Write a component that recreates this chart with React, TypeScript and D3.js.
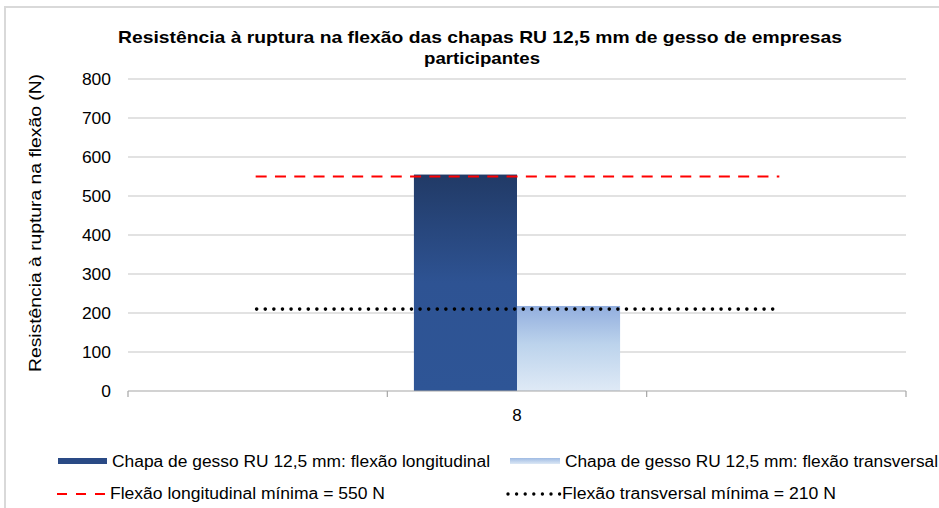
import React from "react";
import * as d3 from "d3";

const categories = ["", "8", ""];
const longitudinal: (number | null)[] = [null, 555, null];
const transversal: (number | null)[] = [null, 218, null];
const yTicks = [0, 100, 200, 300, 400, 500, 600, 700, 800];
const minLongitudinal = 550;
const minTransversal = 210;
const title1 = "Resistência à ruptura na flexão das chapas RU 12,5 mm de gesso de empresas";
const title2 = "participantes";
const yTitle = "Resistência à ruptura na flexão (N)";
const legendLabels = [
  "Chapa de gesso RU 12,5 mm: flexão longitudinal",
  "Chapa de gesso RU 12,5 mm: flexão transversal",
  "Flexão longitudinal mínima = 550 N",
  "Flexão transversal mínima = 210 N",
];

export default function App() {
  const W = 939, H = 508;
  const x = d3.scaleBand<string>().domain(categories.map((c, i) => String(i))).range([128, 906]).padding(0);
  const y = d3.scaleLinear().domain([0, 800]).range([391, 79]);
  const bw = x.bandwidth();
  const groupW = bw * 0.795;
  const barW = groupW / 2;
  const font = "Liberation Sans, Arial, sans-serif";
  const lineX1 = (x("0") as number) + bw / 2 - 2;
  const lineX2 = (x("2") as number) + bw / 2;
  const adj = "spacingAndGlyphs";

  return (
    <div style={{ position: "absolute", left: 0, top: 0 }}>
      <svg width={W} height={H} style={{ display: "block", background: "#fff" }}>
        <defs>
          <linearGradient id="gDark" x1="0" y1="0" x2="0" y2="1">
            <stop offset="0" stopColor="#213a66" />
            <stop offset="0.5" stopColor="#2e5393" />
            <stop offset="1" stopColor="#2e5596" />
          </linearGradient>
          <linearGradient id="gLight" x1="0" y1="0" x2="0" y2="1">
            <stop offset="0" stopColor="#92aede" />
            <stop offset="0.45" stopColor="#bcd3ec" />
            <stop offset="1" stopColor="#dfeaf6" />
          </linearGradient>
          <linearGradient id="gLightLeg" x1="0" y1="0" x2="0" y2="1">
            <stop offset="0" stopColor="#9fbbe3" />
            <stop offset="1" stopColor="#dce8f5" />
          </linearGradient>
        </defs>
        <rect x={5} y={7} width={1000} height={1000} fill="none" stroke="#d9d9d9" strokeWidth={2} />
        <text x={118} y={43} textLength={724} lengthAdjust={adj} fontFamily={font} fontWeight="bold" fontSize={17} fill="#000">{title1}</text>
        <text x={424} y={64} textLength={116} lengthAdjust={adj} fontFamily={font} fontWeight="bold" fontSize={17} fill="#000">{title2}</text>
        {yTicks.map((t) => {
          const s = String(t);
          return (
            <g key={t}>
              {t > 0 && <line x1={128} x2={906} y1={y(t)} y2={y(t)} stroke="#d9d9d9" strokeWidth={1.5} />}
              <text x={111 - s.length * 9.7} y={y(t) + 6} textLength={s.length * 9.7} lengthAdjust={adj} fontFamily={font} fontSize={17} fill="#000">{s}</text>
            </g>
          );
        })}
        <text transform={`translate(41,372) rotate(-90)`} textLength={298} lengthAdjust={adj} fontFamily={font} fontSize={17} fill="#000">{yTitle}</text>
        {categories.map((c, i) => {
          const x0 = (x(String(i)) as number) + (bw - groupW) / 2;
          const l = longitudinal[i];
          const tr = transversal[i];
          return (
            <g key={i}>
              {l != null && <rect x={x0} y={y(l)} width={barW} height={y(0) - y(l)} fill="url(#gDark)" />}
              {tr != null && <rect x={x0 + barW} y={y(tr)} width={barW} height={y(0) - y(tr)} fill="url(#gLight)" />}
              <text x={(x(String(i)) as number) + bw / 2} y={421} textAnchor="middle" fontFamily={font} fontSize={17} fill="#000">{c}</text>
            </g>
          );
        })}
        <line x1={128} x2={906} y1={y(0)} y2={y(0)} stroke="#a6a6a6" strokeWidth={1.2} />
        {[0, 1, 2, 3].map((k) => {
          const xx = k < 3 ? (x(String(k)) as number) : 906;
          return <line key={k} x1={xx} x2={xx} y1={y(0)} y2={y(0) + 6} stroke="#a6a6a6" strokeWidth={1.2} />;
        })}
        <line x1={lineX1} x2={lineX2 + 3} y1={y(minLongitudinal)} y2={y(minLongitudinal)} stroke="#ff0000" strokeWidth={2.2} strokeDasharray="11,8.3" />
        <line x1={lineX1 + 1} x2={lineX2} y1={y(minTransversal)} y2={y(minTransversal)} stroke="#000" strokeWidth={3.6} strokeDasharray="0,8.6" strokeLinecap="round" />
        {/* legend */}
        <rect x={58} y={458} width={49} height={6} fill="#2a4a85" />
        <text x={112} y={467} textLength={378} lengthAdjust={adj} fontFamily={font} fontSize={16} fill="#000">{legendLabels[0]}</text>
        <rect x={510} y={458} width={50} height={6} fill="url(#gLightLeg)" />
        <text x={565} y={467} textLength={373} lengthAdjust={adj} fontFamily={font} fontSize={16} fill="#000">{legendLabels[1]}</text>
        <line x1={57} x2={106} y1={494} y2={494} stroke="#ff0000" strokeWidth={2.2} strokeDasharray="10,9" />
        <text x={110} y={499} textLength={275} lengthAdjust={adj} fontFamily={font} fontSize={16} fill="#000">{legendLabels[2]}</text>
        <line x1={508} x2={560} y1={494} y2={494} stroke="#000" strokeWidth={3.4} strokeDasharray="0,8.6" strokeLinecap="round" />
        <text x={562} y={499} textLength={274} lengthAdjust={adj} fontFamily={font} fontSize={16} fill="#000">{legendLabels[3]}</text>
      </svg>
    </div>
  );
}
